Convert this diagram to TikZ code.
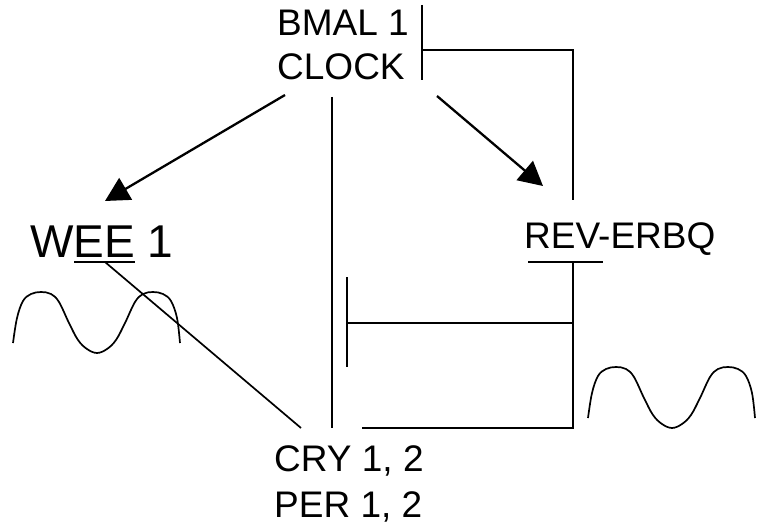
\documentclass[tikz,border=0pt]{standalone}
\usepackage{fontspec}
\setmainfont{Liberation Sans}
\usetikzlibrary{arrows.meta}
\begin{document}
\begin{tikzpicture}[x=1pt,y=-1pt,
  lbl/.style={inner sep=0pt,anchor=base west,font=\fontsize{37}{44}\selectfont},
  biglbl/.style={inner sep=0pt,anchor=base west,font=\fontsize{46}{56}\selectfont},
  ln/.style={line width=1.7pt},
  arr/.style={line width=2.3pt,-{Triangle[length=24pt,width=25pt]}},
  wave/.style={line width=1.7pt}]
\useasboundingbox (0,0) rectangle (761,524);
% texts
\node[lbl] (bmal) at (277,36) {BMAL 1};
\node[lbl] (clock) at (277,80) {CLOCK};
\node[biglbl] (wee) at (30,258) {WEE 1};
\node[lbl] (rev) at (524,248) {REV-ERBQ};
\node[lbl] (cry) at (274,471) {CRY 1, 2};
\node[lbl] (per) at (274,517) {PER 1, 2};
% coordinates
\coordinate (clA) at (285,95);
\coordinate (clB) at (437,96);
\coordinate (clC) at (332,97);
\coordinate (weeTip) at (105,201);
\coordinate (revTip) at (543,186);
\coordinate (barT) at (422,5);
\coordinate (barB) at (422,80);
\coordinate (barM) at (422,50);
\coordinate (rTop) at (573,50);
\coordinate (rTopEnd) at (573,200);
\coordinate (revUL) at (528,262);
\coordinate (revUR) at (603,262);
\coordinate (revUM) at (573,262);
\coordinate (rMid) at (573,323);
\coordinate (rBot) at (573,428);
\coordinate (inhT) at (347,277);
\coordinate (inhB) at (347,367);
\coordinate (inhM) at (347,323);
\coordinate (botL) at (362,428);
\coordinate (vBot) at (332,428);
\coordinate (weeUL) at (74,262);
\coordinate (weeUR) at (135,262);
\coordinate (weeUM) at (105,262);
\coordinate (cryD) at (301,428);
% arrows
\draw[arr] (clA) -- (weeTip);
\draw[arr] (clB) -- (revTip);
% lines
\draw[ln] (barT) -- (barB);
\draw[ln] (barM) -- (rTop) -- (rTopEnd);
\draw[ln] (revUL) -- (revUR);
\draw[ln] (revUM) -- (rBot) -- (botL);
\draw[ln] (rMid) -- (inhM);
\draw[ln] (inhT) -- (inhB);
\draw[ln] (clC) -- (vBot);
\draw[ln] (weeUL) -- (weeUR);
\draw[ln] (weeUM) -- (cryD);
% waves
\foreach \sx/\sy in {13/343, 588/418}{
  \draw[wave,shift={(\sx,\sy)}] plot[smooth,tension=0.6] coordinates {
    (0,0) (4,-25) (10,-42) (18,-49) (28,-51) (38,-49) (46,-41) (56,-20) (65,-3) (74,6) (84,10)
    (94,6) (103,-3) (112,-20) (122,-41) (130,-49) (140,-51) (150,-49) (158,-42) (164,-25) (167,0)};
}
\end{tikzpicture}
\end{document}
